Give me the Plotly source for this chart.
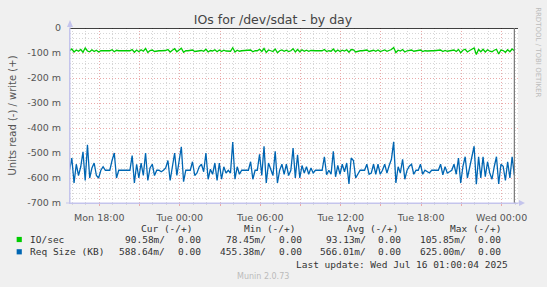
import pandas as pd
import plotly.graph_objects as go

# ---------------- data ----------------
start_time = "2025-07-14 15:47"
step = "10min"

io_sec = [
    -91, -84, -96, -88, -93, -86, -97, -80, -92, -95,
    -87, -94, -89, -96, -91, -90, -91, -91, -91, -87,
    -95, -89, -91, -91, -91, -91, -91, -91, -86, -97,
    -88, -95, -87, -93, -82, -98, -90, -88, -94, -91,
    -91, -91, -91, -90, -86, -96, -89, -83, -95, -88,
    -81, -97, -91, -91, -91, -88, -94, -92, -89, -90,
    -93, -85, -96, -90, -92, -87, -95, -88, -94, -89,
    -92, -91, -93, -79, -96, -89, -93, -91, -91, -91,
    -91, -88, -95, -91, -91, -85, -94, -82, -98, -88,
    -91, -94, -84, -99, -91, -88, -93, -89, -94, -91,
    -83, -96, -86, -95, -87, -93, -89, -93, -90, -92,
    -91, -91, -91, -91, -86, -94, -91, -93, -84, -95,
    -88, -94, -89, -92, -87, -97, -86, -87, -96, -93,
    -91, -91, -91, -88, -94, -92, -89, -93, -88, -94,
    -91, -88, -93, -89, -86, -78, -98, -89, -92, -86,
    -96, -91, -90, -88, -93, -91, -91, -88, -94, -91,
    -92, -93, -91, -91, -91, -91, -88, -94, -90, -93,
    -92, -91, -88, -94, -86, -99, -89, -85, -96, -90,
    -85, -80, -105.85, -86, -95, -85, -96, -87, -93, -95,
    -89, -85, -104, -88, -90, -97, -87, -95, -84, -90.58,
]

req_size = [
    -569, -520, -620, -545, -590, -555, -495, -610, -467, -600,
    -560, -540, -590, -600, -569, -555, -569, -569, -569, -530,
    -500, -600, -569, -569, -569, -569, -569, -569, -510, -620,
    -545, -600, -540, -590, -500, -610, -560, -545, -590, -569,
    -569, -575, -569, -560, -530, -610, -555, -500, -590, -540,
    -475, -615, -569, -569, -569, -535, -590, -580, -555, -545,
    -575, -500, -605, -565, -585, -540, -610, -540, -605, -555,
    -580, -569, -580, -456, -605, -555, -585, -569, -569, -569,
    -569, -535, -605, -569, -569, -505, -590, -473, -620, -540,
    -569, -590, -493, -620, -569, -545, -585, -545, -590, -569,
    -480, -600, -507, -600, -550, -580, -555, -585, -560, -580,
    -569, -569, -569, -569, -515, -587, -569, -585, -493, -595,
    -550, -585, -545, -575, -540, -624, -520, -530, -600, -585,
    -569, -569, -569, -545, -585, -580, -545, -585, -545, -585,
    -569, -545, -580, -550, -525, -455.38, -620, -555, -580, -525,
    -605, -569, -553, -545, -585, -569, -569, -545, -585, -569,
    -575, -580, -569, -569, -569, -569, -545, -587, -555, -580,
    -575, -569, -545, -585, -520, -620, -553, -515, -600, -560,
    -515, -473, -625, -515, -600, -515, -595, -535, -580, -605,
    -555, -515, -624, -545, -553, -610, -535, -600, -515, -588.64,
]

series_names = ["IO/sec", "Req Size (KB)"]
series_colors = ["#00CC00", "#0066B3"]

x_tick_vals = ["2025-07-14 18:00", "2025-07-14 21:00", "2025-07-15 00:00",
               "2025-07-15 03:00", "2025-07-15 06:00", "2025-07-15 09:00",
               "2025-07-15 12:00", "2025-07-15 15:00", "2025-07-15 18:00",
               "2025-07-15 21:00", "2025-07-16 00:00"]
x_tick_text = ["Mon 18:00", "", "Tue 00:00", "", "Tue 06:00", "", "Tue 12:00",
               "", "Tue 18:00", "", "Wed 00:00"]
y_tick_vals = [0, -100, -200, -300, -400, -500, -600, -700]
y_tick_text = ["0", "-100 m", "-200 m", "-300 m", "-400 m", "-500 m", "-600 m", "-700 m"]

legend_header = ["Cur (-/+)", "Min (-/+)", "Avg (-/+)", "Max (-/+)"]
legend_values = [
    ["90.58m/", "0.00", "78.45m/", "0.00", "93.13m/", "0.00", "105.85m/", "0.00"],
    ["588.64m/", "0.00", "455.38m/", "0.00", "566.01m/", "0.00", "625.00m/", "0.00"],
]

times = pd.date_range(start_time, periods=len(req_size), freq=step)

# ---------------- layout geometry ----------------
W, H = 547, 287
L, R, T, B = 67, 29, 28, 84
PW, PH = W - L - R, H - T - B


def px(x):
    return (x - L) / PW


def py(y):
    return (H - B - y) / PH


fig = go.Figure()
for name, vals, col in zip(series_names, [io_sec, req_size], series_colors):
    fig.add_trace(go.Scatter(x=times, y=vals, mode="lines", name=name,
                             line=dict(color=col, width=1.3), showlegend=False))

major_col = "#EAAAAA"
minor_col = "#D6D6D6"
axis_col = "#C4C4EC"
font_fam = "DejaVu Sans"
mono = "DejaVu Sans Mono"

fig.update_layout(
    width=W, height=H,
    margin=dict(l=L, r=R, t=T, b=B, pad=0),
    paper_bgcolor="#F0F0F0", plot_bgcolor="#FFFFFF",
    font=dict(family=font_fam, size=9.5, color="#555555"),
    title=dict(text="IOs for /dev/sdat - by day", x=273 / W, xanchor="center",
               y=1 - 20 / H, yanchor="middle",
               font=dict(family=font_fam, size=12.5, color="#444444")),
    xaxis=dict(
        range=["2025-07-14 15:48:53", "2025-07-16 01:13:20"],
        tickmode="array", tickvals=x_tick_vals, ticktext=x_tick_text,
        showgrid=True, gridcolor=major_col, griddash="1px,2px", gridwidth=1,
        ticks="outside", ticklen=2, tickcolor=major_col,
        showline=True, linecolor=axis_col, linewidth=1,
        zeroline=False, ticklabelstandoff=4,
        tickfont=dict(family=font_fam, size=9.5, color="#555555"),
        minor=dict(dtick=3600000, tick0="2025-07-14 00:00", showgrid=True,
                   gridcolor=minor_col, griddash="1px,2px", gridwidth=1,
                   ticks="outside", ticklen=1, tickcolor=minor_col),
    ),
    yaxis=dict(
        range=[-700, 0],
        tickmode="array", tickvals=y_tick_vals, ticktext=y_tick_text,
        showgrid=True, gridcolor=major_col, griddash="1px,2px", gridwidth=1,
        ticks="", showline=True, linecolor=axis_col, linewidth=1,
        zeroline=False, ticklabelstandoff=6,
        tickfont=dict(family=font_fam, size=9.5, color="#555555"),
        title=dict(text="Units read (-) / write (+)", standoff=8,
                   font=dict(family=font_fam, size=10, color="#555555")),
        minor=dict(dtick=20, tick0=0, showgrid=True, gridcolor=minor_col,
                   griddash="1px,2px", gridwidth=1),
    ),
)

shapes = []
# zero line at top
shapes.append(dict(type="line", xref="paper", yref="y", x0=0, x1=1, y0=0, y1=0,
                   line=dict(color="#000000", width=1.5)))
# last update vertical line
shapes.append(dict(type="line", xref="x", yref="paper", x0=times[-1], x1=times[-1],
                   y0=0, y1=1, line=dict(color="#777777", width=1.2)))
# axis arrows
shapes.append(dict(type="line", xref="paper", yref="paper", x0=px(67), x1=px(67),
                   y0=py(203), y1=py(22), line=dict(color=axis_col, width=1)))
shapes.append(dict(type="path", xref="paper", yref="paper",
                   path=f"M {px(64)},{py(27)} L {px(70)},{py(27)} L {px(67)},{py(20)} Z",
                   fillcolor=axis_col, line=dict(color=axis_col, width=0)))
shapes.append(dict(type="line", xref="paper", yref="paper", x0=px(63), x1=px(520),
                   y0=py(203), y1=py(203), line=dict(color=axis_col, width=1)))
shapes.append(dict(type="path", xref="paper", yref="paper",
                   path=f"M {px(519)},{py(200)} L {px(519)},{py(206)} L {px(525)},{py(203)} Z",
                   fillcolor=axis_col, line=dict(color=axis_col, width=0)))
# legend colour squares
for row, col in enumerate(series_colors):
    yc = 239.5 + row * 12.3
    shapes.append(dict(type="rect", xref="paper", yref="paper",
                       x0=px(13.3), x1=px(18.5), y0=py(yc - 2.6), y1=py(yc + 2.6),
                       fillcolor=col, line=dict(width=0)))
fig.update_layout(shapes=shapes)

ann = []


def text(x, y, s, anchor="left", size=9.5, color="#333333", family=mono, angle=0):
    ann.append(dict(xref="paper", yref="paper", x=px(x), y=py(y), text=s,
                    showarrow=False, xanchor=anchor, yanchor="middle",
                    textangle=angle,
                    font=dict(family=family, size=size, color=color)))


header_right = [192, 295.5, 399, 503]
for s, xr in zip(legend_header, header_right):
    text(xr, 228, s, anchor="right")

val_right = [164.5, 201, 266.5, 302.5, 366.5, 402.5, 467.5, 503]
for row, (name, vals) in enumerate(zip(series_names, legend_values)):
    yc = 239.5 + row * 12.3
    text(25, yc, name, anchor="left")
    for s, xr in zip(vals, val_right):
        text(xr, yc, s, anchor="right")

text(509.5, 264, "Last update: Wed Jul 16 01:00:04 2025", anchor="right")
text(261, 276, "Munin 2.0.73", anchor="center", size=8, color="#BBBBBB", family=font_fam)
text(538, 52, "RRDTOOL / TOBI OETIKER", anchor="center", size=7, color="#BBBBBB",
     family=font_fam, angle=90)

fig.update_layout(annotations=ann)

fig.write_html("out.html")
